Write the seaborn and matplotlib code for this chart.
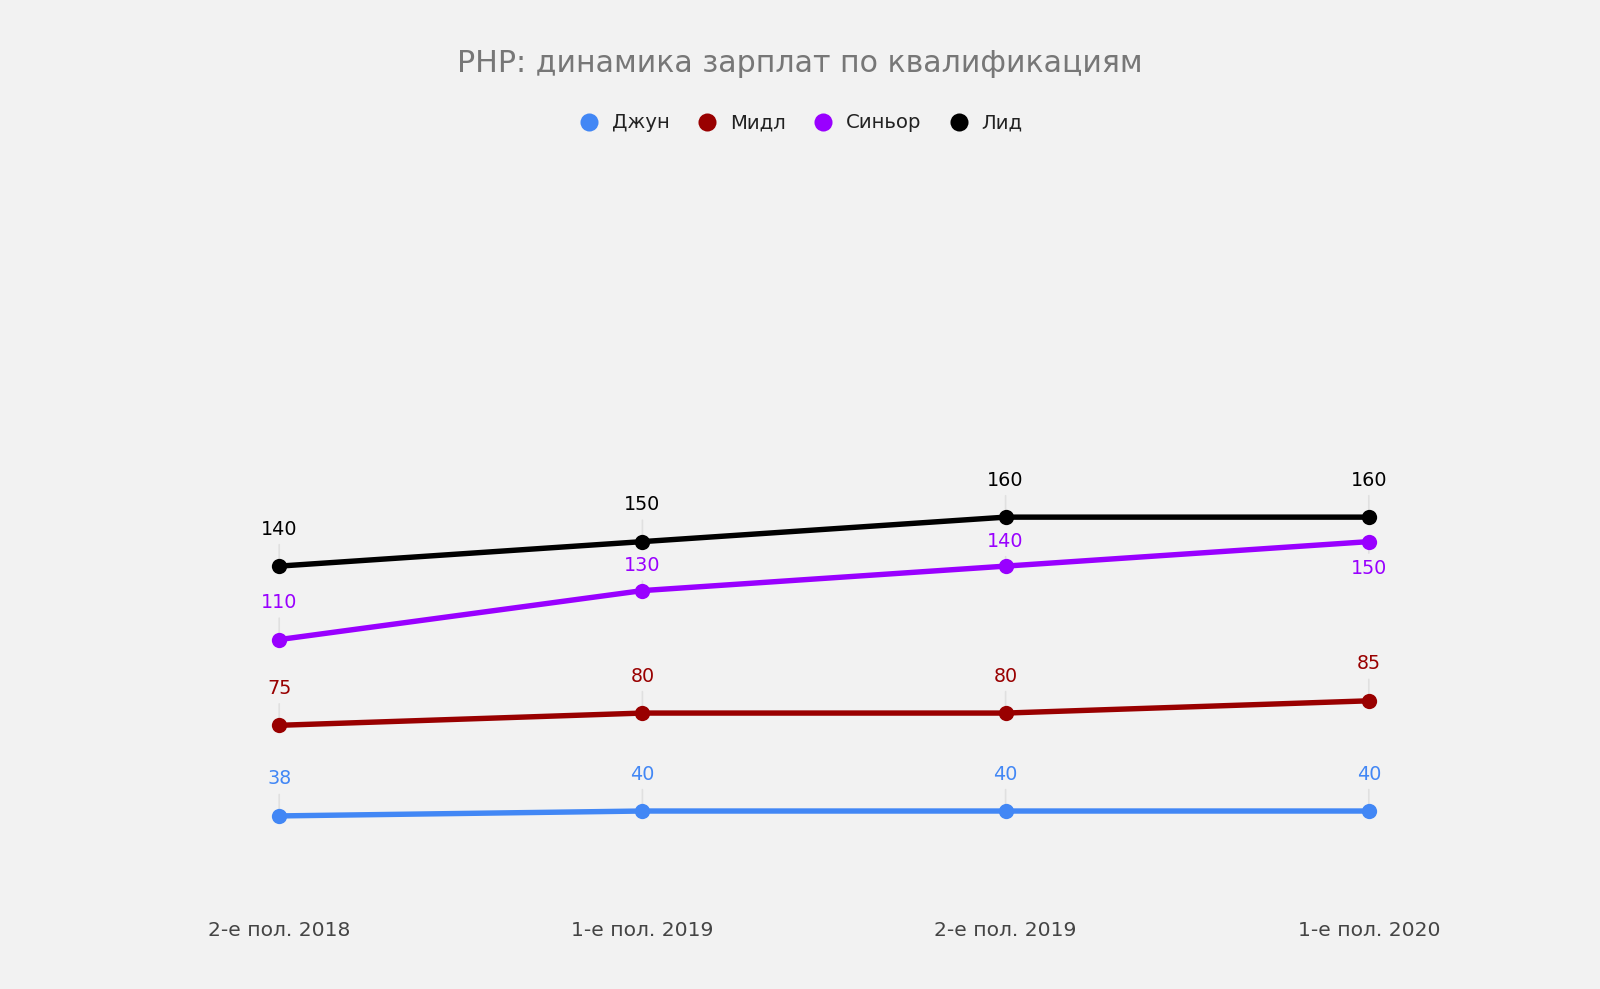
import numpy as np
import pandas as pd
import matplotlib
matplotlib.use('Agg')
import matplotlib.pyplot as plt
from matplotlib.lines import Line2D
import seaborn as sns

# данные
periods = ['2-е пол. 2018', '1-е пол. 2019', '2-е пол. 2019', '1-е пол. 2020']
levels = ['Джун', 'Мидл', 'Синьор', 'Лид']
junior = [38, 40, 40, 40]
middle = [75, 80, 80, 85]
senior = [110, 130, 140, 150]
lead = [140, 150, 160, 160]
colors = ['#4287f5', '#990000', '#9900ff', '#000000']
# сдвиг подписи относительно точки (в пикселях, минус - под точкой)
label_off = {'Джун': [37, 37, 37, 37], 'Мидл': [37, 37, 37, 37],
             'Синьор': [37, 25, 25, -27], 'Лид': [37, 37, 37, 37]}

values = {'Джун': junior, 'Мидл': middle, 'Синьор': senior, 'Лид': lead}
rows = []
for lvl in levels:
    for i, v in enumerate(values[lvl]):
        rows.append({'pos': i, 'period': periods[i], 'level': lvl, 'salary': v})
df = pd.DataFrame(rows)

bg = '#f2f2f2'
sns.set_style('white')
plt.rcParams['font.family'] = ['DejaVu Sans']

fig = plt.figure(figsize=(16, 9.89), dpi=100, facecolor=bg)
ax = fig.add_axes([0.061, 0.0809, 0.908, 0.7429])
ax.set_facecolor(bg)

palette = dict(zip(levels, colors))
sns.lineplot(data=df, x='pos', y='salary', hue='level', palette=palette,
             marker='o', markersize=11, markeredgewidth=0, linewidth=3.9,
             legend=False, ax=ax, zorder=5)

# подписи значений
for lvl in levels:
    col = palette[lvl]
    for i, v in enumerate(values[lvl]):
        off = label_off[lvl][i]
        ax.annotate(str(v), xy=(i, v), xytext=(0, off), textcoords='offset pixels',
                    ha='center', va='center', fontsize=13.8, color=col, zorder=4,
                    arrowprops=dict(arrowstyle='-', color='#e0e0e0', lw=1.2,
                                    shrinkA=2, shrinkB=0))

ax.set_xlim(-0.5, 3.5)
ax.set_ylim(0, 300)
ax.set_xticks(range(len(periods)))
ax.set_xticklabels(periods, fontsize=14.6, color='#444444')
ax.tick_params(axis='x', length=0, pad=9)
ax.set_yticks([])
ax.set_xlabel('')
ax.set_ylabel('')
for s in ax.spines.values():
    s.set_visible(False)

fig.text(0.5, 1 - 64 / 989, 'PHP: динамика зарплат по квалификациям',
         ha='center', va='center', fontsize=21.6, color='#777777')

handles = [Line2D([], [], marker='o', linestyle='none', markersize=13,
                  markerfacecolor=c, markeredgewidth=0) for c in colors]
fig.legend(handles, levels, loc='center', bbox_to_anchor=(0.5, 1 - 123 / 989),
           ncol=4, frameon=False, fontsize=14.2, handletextpad=0.55,
           columnspacing=1.3, handlelength=1.2, labelcolor='#222222')

fig.savefig('out.png', dpi=100, facecolor=bg)
